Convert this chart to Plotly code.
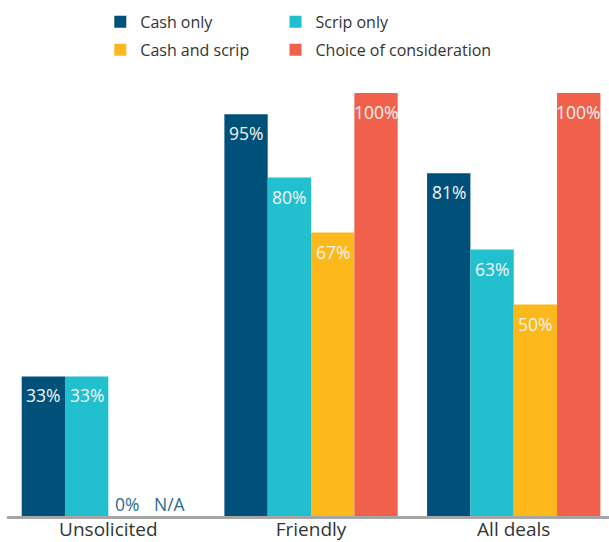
import plotly.graph_objects as go

# Share of deals, by approach type and form of consideration
categories = ["Unsolicited", "Friendly", "All deals"]
series_names = ["Cash only", "Scrip only", "Cash and scrip", "Choice of consideration"]
values = [
    [33, 95, 81],      # Cash only
    [33, 80, 63],      # Scrip only
    [0, 67, 50],       # Cash and scrip
    [None, 100, 100],  # Choice of consideration (no unsolicited deals)
]
colors = ["#00517a", "#22bfce", "#fdb81b", "#f1604b"]

FONT = "Open Sans"
BARGAP = 0.145
n_series = len(series_names)
bar_w = (1 - BARGAP) / n_series

# one legend box per series, laid out as a 2x2 grid above the plot
legend_ids = ["legend", "legend2", "legend3", "legend4"]
legend_pos = [(0.155, 1.168), (0.446, 1.168), (0.155, 1.102), (0.446, 1.102)]

fig = go.Figure()
for i, (name, vals, col) in enumerate(zip(series_names, values, colors)):
    fig.add_trace(go.Bar(
        x=categories,
        y=[v if v is not None else 0 for v in vals],
        name=name,
        marker=dict(color=col, line=dict(width=0)),
        legend=legend_ids[i],
        hoverinfo="skip",
    ))

    # value labels: inside the top of each bar, or just above the axis when empty
    for j, v in enumerate(vals):
        xpos = j + (i - (n_series - 1) / 2) * bar_w
        if v is None or v == 0:
            fig.add_annotation(
                x=xpos, y=0, xref="x", yref="y",
                text="N/A" if v is None else f"{v}%",
                showarrow=False, yanchor="middle", yshift=12,
                xshift=-3,
                font=dict(family=FONT, size=17.5, color="#2a6b93"),
            )
        else:
            fig.add_annotation(
                x=xpos, y=v, xref="x", yref="y",
                text=f"{v}%",
                showarrow=False, yanchor="middle", yshift=-19,
                font=dict(family=FONT, size=17.5, color="#f4f4f4"),
            )

legend_layout = {}
for lid, (lx, ly) in zip(legend_ids, legend_pos):
    legend_layout[lid] = dict(
        x=lx, y=ly,
        xref="paper", yref="paper",
        xanchor="left", yanchor="middle",
        orientation="h",
        font=dict(family=FONT, size=16, color="#333333"),
        bgcolor="rgba(0,0,0,0)",
        itemclick=False, itemdoubleclick=False,
    )

fig.update_layout(
    width=609, height=542,
    margin=dict(l=7, r=0, t=93, b=26),
    paper_bgcolor="white", plot_bgcolor="white",
    barmode="group", bargap=BARGAP, bargroupgap=0,
    showlegend=True,
    xaxis=dict(
        type="category",
        range=[-0.5, 2.47],
        automargin=False,
        showline=True, linecolor="#a6a6a6", linewidth=3,
        ticks="", showgrid=False, zeroline=False,
        ticklabelstandoff=-6,
        tickfont=dict(family=FONT, size=19, color="#333333"),
    ),
    yaxis=dict(
        range=[0, 100],
        automargin=False,
        visible=False, showgrid=False, zeroline=False,
    ),
    **legend_layout,
)

fig.write_html("out.html")
